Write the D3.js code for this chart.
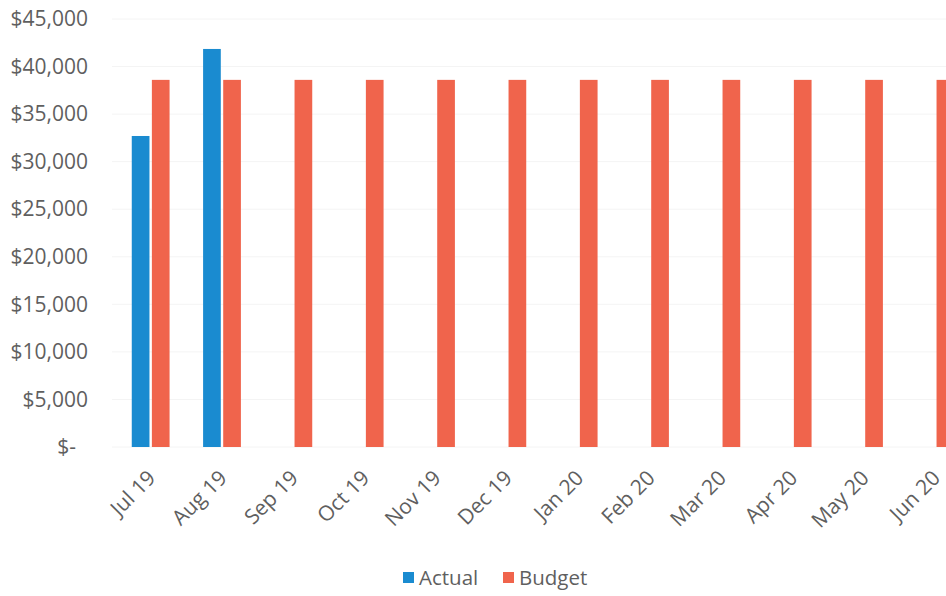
<!DOCTYPE html>
<html><head><meta charset="utf-8">
<script src="https://cdn.jsdelivr.net/npm/d3@7"></script>
<style>body{margin:0;background:#fff}svg{display:block}</style>
</head><body>
<svg id="c" width="946" height="596"></svg>
<script>
const months = ["Jul 19","Aug 19","Sep 19","Oct 19","Nov 19","Dec 19","Jan 20","Feb 20","Mar 20","Apr 20","May 20","Jun 20"];
const actual = [32700, 41850, null, null, null, null, null, null, null, null, null, null];
const budget = [38600, 38600, 38600, 38600, 38600, 38600, 38600, 38600, 38600, 38600, 38600, 38600];
const yTicks = [0, 5000, 10000, 15000, 20000, 25000, 30000, 35000, 40000, 45000];
const seriesNames = ["Actual", "Budget"];
const colors = ["#1a8bd0", "#f0644c"];

const svg = d3.select("#c");
const font = "'Open Sans', sans-serif";
const textCol = "#5f5f5f";

const x = d3.scaleBand().domain(months).range([115, 971]).paddingInner(0.47).paddingOuter(0.235);
const xs = d3.scaleBand().domain(seriesNames).range([0, x.bandwidth()]).paddingInner(0.12);
const y = d3.scaleLinear().domain([0, 45000]).range([447, 19]);

// gridlines
svg.append("g").selectAll("line").data(yTicks).join("line")
  .attr("x1", 112).attr("x2", 946)
  .attr("y1", d => y(d)).attr("y2", d => y(d))
  .attr("stroke", "#f4f4f4").attr("stroke-width", 1);

// y axis
const yAxis = d3.axisLeft(y).tickValues(yTicks).tickSize(0).tickPadding(0)
  .tickFormat(d => d === 0 ? "$-" : "$" + d3.format(",")(d));
const yg = svg.append("g").attr("transform", "translate(88,0)").call(yAxis);
yg.select(".domain").remove();
yg.selectAll("text").attr("font-family", font).attr("font-size", 21).attr("fill", textCol)
  .attr("dx", d => d === 0 ? -12 : 0);

// bars
const data = [];
months.forEach((m, i) => {
  if (actual[i] != null) data.push({m, s: "Actual", v: actual[i], c: colors[0]});
  data.push({m, s: "Budget", v: budget[i], c: colors[1]});
});
svg.append("g").selectAll("rect").data(data).join("rect")
  .attr("x", d => x(d.m) + xs(d.s))
  .attr("width", xs.bandwidth())
  .attr("y", d => y(d.v))
  .attr("height", d => y(0) - y(d.v))
  .attr("fill", d => d.c);

// x axis
const xAxis = d3.axisBottom(x).tickSize(0).tickPadding(0);
const xg = svg.append("g").attr("transform", "translate(0,447)").call(xAxis);
xg.select(".domain").remove();
xg.selectAll("text")
  .attr("font-family", font).attr("font-size", 21).attr("fill", textCol)
  .attr("text-anchor", "end").attr("dy", "0.35em")
  .attr("transform", "translate(1,27) rotate(-45)");

// legend
const leg = svg.append("g");
const legItems = [{n: "Actual", c: colors[0], x: 403}, {n: "Budget", c: colors[1], x: 503}];
legItems.forEach(it => {
  leg.append("rect").attr("x", it.x).attr("y", 572).attr("width", 11).attr("height", 11).attr("fill", it.c);
  leg.append("text").attr("x", it.x + 16).attr("y", 578).attr("dy", "0.35em")
    .attr("font-family", font).attr("font-size", 20.5).attr("fill", textCol).text(it.n);
});
</script>
</body></html>
